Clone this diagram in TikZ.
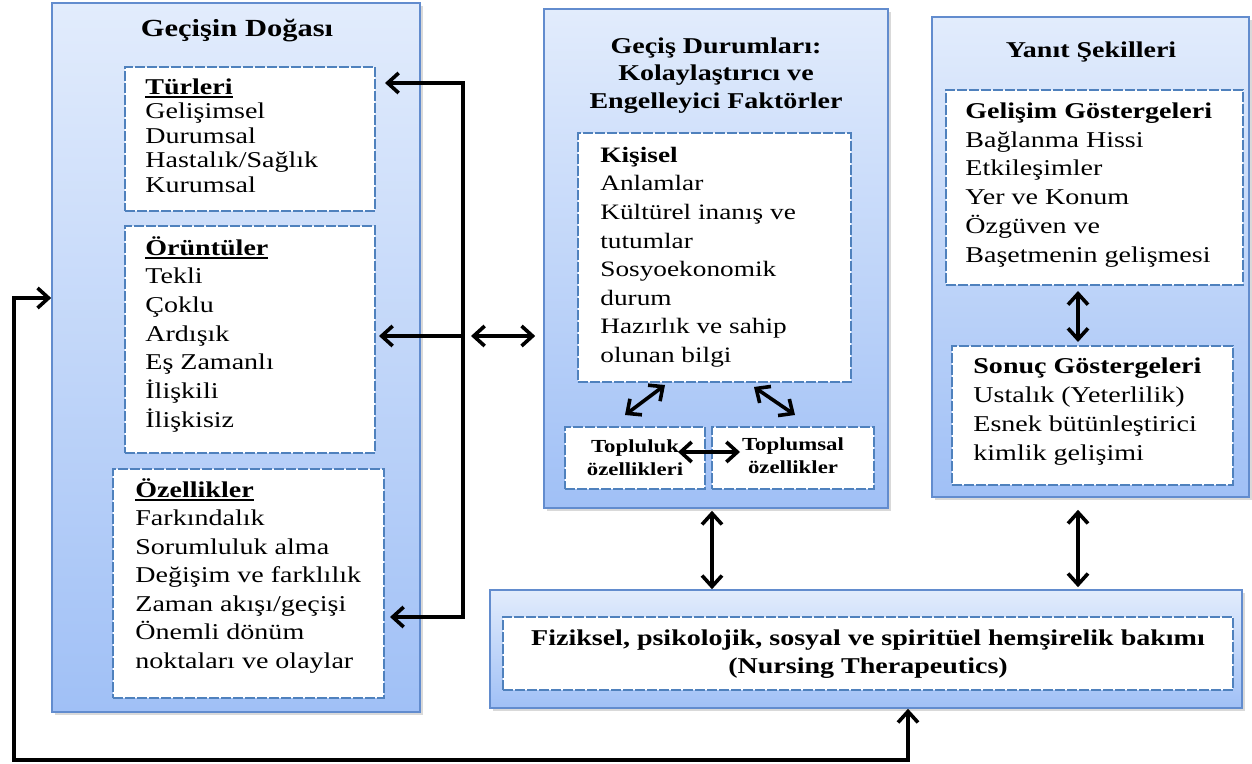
\documentclass[tikz,border=0pt]{standalone}
\usepackage{fontspec}
\setmainfont{Liberation Serif}[FakeStretch=1.24]
\usetikzlibrary{arrows.meta,fit,shadows,calc}
\definecolor{bigtop}{RGB}{226,236,252}
\definecolor{bigbot}{RGB}{160,192,246}
\definecolor{bigbord}{RGB}{98,140,206}
\definecolor{inbord}{RGB}{79,129,189}
\newcommand\fsz[2]{\fontsize{#1}{#2}\selectfont}
\newcommand\fs{\rule{0pt}{10pt}}
\newsavebox\ulbox
\newcommand\ulx[1]{\sbox\ulbox{#1}\rlap{\rule[-1.8pt]{\wd\ulbox}{0.8pt}}\usebox\ulbox}
\tikzset{
  bigbox/.style={draw=bigbord, line width=0.8pt, top color=bigtop, bottom color=bigbot, inner sep=0pt,
    drop shadow={opacity=0.3, shadow xshift=1.3pt, shadow yshift=-1.3pt}},
  inbox/.style={draw=inbord, line width=1pt, dash pattern=on 5pt off 1pt, fill=white, inner sep=0pt},
  txt/.style={inner sep=0pt, align=left, anchor=north west},
  ctxt/.style={inner sep=0pt, align=center, anchor=north},
  conn/.style={line width=1.8pt, black},
}
\begin{document}
\begin{tikzpicture}[x=0.5pt,y=-0.5pt, >={Straight Barb[length=5.5pt,width=10pt]}]
\useasboundingbox (0,0) rectangle (1252,764);
% big boxes
\node[bigbox, fit={(52,3) (420,712)}] (nature) {};
\node[bigbox, fit={(544,9) (888,508)}] (cond) {};
\node[bigbox, fit={(932,17) (1249,497)}] (resp) {};
\node[bigbox, fit={(490,590) (1242,708)}] (therap) {};
% inner boxes
\node[inbox, fit={(125,67) (375,211)}] (turleri) {};
\node[inbox, fit={(125,226) (375,453)}] (oruntu) {};
\node[inbox, fit={(113,469) (384,698)}] (ozel) {};
\node[inbox, fit={(578,133) (851,382)}] (kisisel) {};
\node[inbox, fit={(565,427) (705,489)}] (toplu) {};
\node[inbox, fit={(712,427) (874,489)}] (toplum) {};
\node[inbox, fit={(946,90) (1243,285)}] (gelisim) {};
\node[inbox, fit={(952,346) (1233,485)}] (sonuc) {};
\node[inbox, fit={(503,617) (1233,690)}] (bakim) {};
% titles
\node[inner sep=0pt, anchor=base, font=\bfseries\fsz{12.3}{14}] (tnature) at (237,37) {Geçişin Doğası};
\node[ctxt, font=\bfseries\fsz{11.3}{13.8}] (tcond) at (716,33) {\fs Geçiş Durumları:\\Kolaylaştırıcı ve\\Engelleyici Faktörler};
\node[inner sep=0pt, anchor=base, font=\bfseries\fsz{11.3}{14}] (tresp) at (1091,58) {Yanıt Şekilleri};
% texts
\node[txt, font=\fsz{11.3}{12.25}] (tturl) at (145,74) {\fs\ulx{\textbf{Türleri}}\\Gelişimsel\\Durumsal\\Hastalık/Sağlık\\Kurumsal};
\node[txt, font=\fsz{11.3}{14.3}] (toru) at (145,235) {\fs\ulx{\textbf{Örüntüler}}\\Tekli\\Çoklu\\Ardışık\\Eş Zamanlı\\İlişkili\\İlişkisiz};
\node[txt, font=\fsz{11.3}{14.25}] (tozel) at (135,477) {\fs\ulx{\textbf{Özellikler}}\\Farkındalık\\Sorumluluk alma\\Değişim ve farklılık\\Zaman akışı/geçişi\\Önemli dönüm\\noktaları ve olaylar};
\node[txt, font=\fsz{11}{14.3}] (tkis) at (600,142) {\fs\textbf{Kişisel}\\Anlamlar\\Kültürel inanış ve\\tutumlar\\Sosyoekonomik\\durum\\Hazırlık ve sahip\\olunan bilgi};
\node[ctxt, font=\bfseries\fsz{9.2}{11.5}] (ttoplu) at (635,436) {\rule{0pt}{8pt}Topluluk\\özellikleri};
\node[ctxt, font=\bfseries\fsz{9.2}{11.5}] (ttoplum) at (793,434) {\rule{0pt}{8pt}Toplumsal\\özellikler};
\node[txt, font=\fsz{11.3}{14.4}] (tgel) at (965,98) {\fs\textbf{Gelişim Göstergeleri}\\Bağlanma Hissi\\Etkileşimler\\Yer ve Konum\\Özgüven ve\\Başetmenin gelişmesi};
\node[txt, font=\fsz{11.3}{14.5}] (tson) at (973,353) {\fs\textbf{Sonuç Göstergeleri}\\Ustalık (Yeterlilik)\\Esnek bütünleştirici\\kimlik gelişimi};
\node[ctxt, font=\bfseries\fsz{11.3}{14}] (tbak) at (868,625) {\fs Fiziksel, psikolojik, sosyal ve spiritüel hemşirelik bakımı\\(Nursing Therapeutics)};
% connector coordinates
\coordinate (busT) at (463,83);
\coordinate (busM) at (463,336);
\coordinate (busB) at (463,617);
\coordinate (lpT) at (14,298);
\coordinate (lpB) at (14,760);
\coordinate (lpR) at (908,760);
\coordinate (xA) at (712,0);
\coordinate (xB) at (1078,0);
\coordinate (d1a) at (665,385);
\coordinate (d1b) at (625,415);
\coordinate (d2a) at (754,387);
\coordinate (d2b) at (795,415);
\coordinate (hA) at (678,452);
\coordinate (hB) at (740,452);
% connectors
\draw[conn, <->] ([xshift=4.5pt]turleri.east |- busT) -- (busT) -- (busB) -- ([xshift=2.5pt]ozel.east |- busB);
\draw[conn, ->] (busM) -- ([xshift=1.5pt]oruntu.east |- busM);
\draw[conn, <->] ([xshift=4pt]busM) -- ([xshift=-4pt]cond.west |- busM);
\draw[conn, <->] (nature.west |- lpT) -- (lpT) -- (lpB) -- (lpR) -- (therap.south -| lpR);
\draw[conn, <->] (d1a) -- (d1b);
\draw[conn, <->] (d2a) -- (d2b);
\draw[conn, <->] (hA) -- (hB);
\draw[conn, <->] ([yshift=-1pt]cond.south -| xA) -- (therap.north -| xA);
\draw[conn, <->] ([yshift=-6pt]resp.south -| xB) -- ([yshift=1pt]therap.north -| xB);
\draw[conn, <->] ([yshift=-2.5pt]gelisim.south -| xB) -- ([yshift=1.5pt]sonuc.north -| xB);
\end{tikzpicture}
\end{document}
